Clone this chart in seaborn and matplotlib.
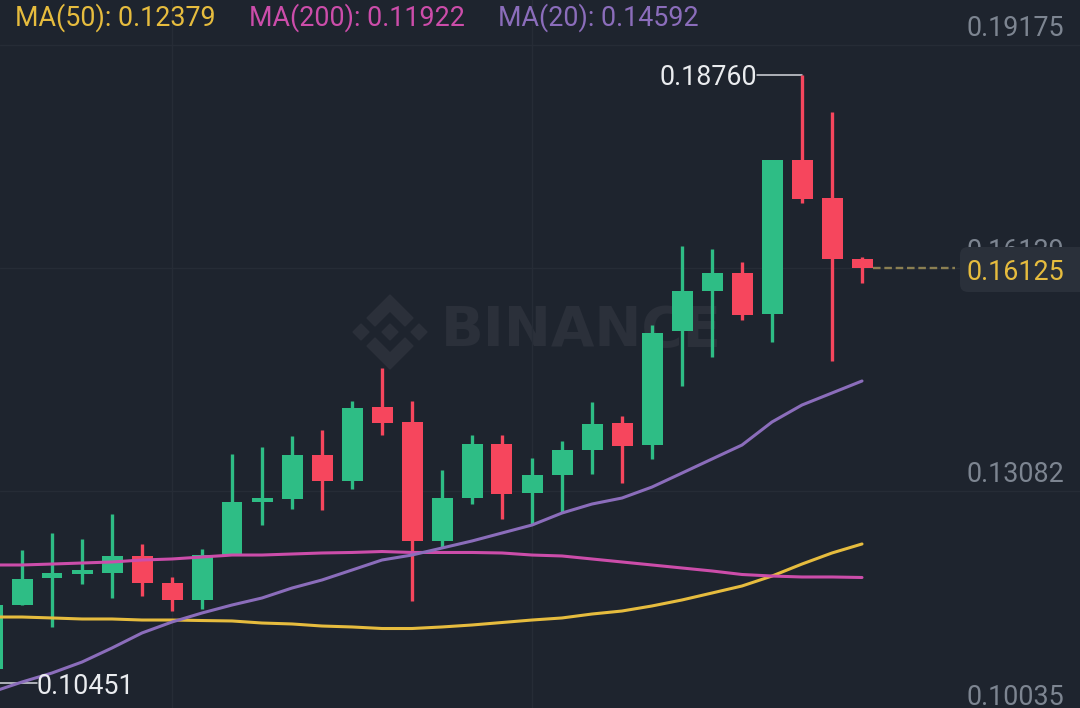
import numpy as np
import pandas as pd
import matplotlib
matplotlib.use("Agg")
import matplotlib.pyplot as plt
from matplotlib.patches import FancyBboxPatch, Polygon
from matplotlib.transforms import IdentityTransform
import seaborn as sns

# --- candles ---
opens = [0.10649, 0.11523, 0.11892, 0.11947, 0.11960, 0.12193, 0.11824, 0.11592, 0.12206, 0.12931,
         0.12972, 0.13573, 0.13218, 0.14229, 0.14024, 0.12398, 0.12985, 0.13723, 0.13054, 0.13300,
         0.13641, 0.14010, 0.13709, 0.15267, 0.15814, 0.16060, 0.15500, 0.17604, 0.17084, 0.16251]
highs = [0.11523, 0.12275, 0.12507, 0.12425, 0.12767, 0.12357, 0.11906, 0.12288, 0.13586, 0.13682,
         0.13832, 0.13914, 0.14311, 0.14762, 0.14311, 0.13368, 0.13846, 0.13846, 0.13532, 0.13764,
         0.14297, 0.14106, 0.15349, 0.16429, 0.16388, 0.16210, 0.17604, 0.18760, 0.18260, 0.16278]
lows = [0.10649, 0.11523, 0.11223, 0.11810, 0.11619, 0.11646, 0.11441, 0.11469, 0.12206, 0.12616,
        0.12835, 0.12821, 0.13108, 0.13846, 0.11578, 0.12302, 0.12903, 0.12698, 0.12616, 0.12780,
        0.13313, 0.13190, 0.13518, 0.14516, 0.14912, 0.15417, 0.15117, 0.17016, 0.14857, 0.15923]
closes = [0.11523, 0.11878, 0.11960, 0.12001, 0.12193, 0.11824, 0.11592, 0.12206, 0.12931, 0.12985,
          0.13573, 0.13218, 0.14215, 0.14010, 0.12398, 0.12985, 0.13723, 0.13040, 0.13300, 0.13641,
          0.13996, 0.13696, 0.15240, 0.15814, 0.16060, 0.15486, 0.17604, 0.17071, 0.16251, 0.16125]

ma50 = [0.11359, 0.11359, 0.11346, 0.11332, 0.11332, 0.11318, 0.11318, 0.11311, 0.11305, 0.11277,
        0.11264, 0.11236, 0.11223, 0.11202, 0.11202, 0.11223, 0.11250, 0.11284, 0.11318, 0.11346,
        0.11400, 0.11441, 0.11510, 0.11592, 0.11687, 0.11783, 0.11919, 0.12083, 0.12234, 0.12357]
ma200 = [0.12070, 0.12070, 0.12083, 0.12097, 0.12111, 0.12138, 0.12152, 0.12179, 0.12206, 0.12206,
         0.12220, 0.12234, 0.12241, 0.12254, 0.12241, 0.12241, 0.12241, 0.12234, 0.12206, 0.12193,
         0.12152, 0.12111, 0.12070, 0.12029, 0.11988, 0.11940, 0.11919, 0.11906, 0.11906, 0.11899]
ma20 = [0.10334, 0.10471, 0.10594, 0.10744, 0.10936, 0.11141, 0.11291, 0.11414, 0.11523, 0.11619,
        0.11755, 0.11865, 0.12001, 0.12138, 0.12206, 0.12302, 0.12398, 0.12507, 0.12616, 0.12780,
        0.12903, 0.12985, 0.13135, 0.13326, 0.13518, 0.13709, 0.14024, 0.14256, 0.14420, 0.14584]

axis_ticks = [0.19175, 0.16129, 0.13082, 0.10035]
axis_labels = ["0.19175", "0.16129", "0.13082", "0.10035"]
legend_labels = ["MA(50): 0.12379", "MA(200): 0.11922", "MA(20): 0.14592"]
last_price = 0.16125
peak_price = 0.18760
trough_price = 0.10451

BG = "#1E242E"
GRID = "#262C36"
GREEN = "#2EBD85"
RED = "#F6465D"
YELLOW = "#E6BC3E"
PINK = "#CC4DAA"
PURPLE = "#8B6DBB"
AXIS_GREY = "#7D8591"

sns.set_theme(style="dark", rc={"figure.facecolor": BG, "axes.facecolor": BG})
plt.rcParams["font.family"] = ["Roboto", "DejaVu Sans"]

W, H = 1080, 708
fig = plt.figure(figsize=(W / 100, H / 100), dpi=100)
ax = fig.add_axes([0, 0, 1, 1])
ax.set_zorder(1)
ax.patch.set_alpha(0)

df = pd.DataFrame({"i": np.arange(len(opens)), "open": opens, "high": highs, "low": lows,
                   "close": closes, "ma50": ma50, "ma200": ma200, "ma20": ma20})
df["color"] = np.where(df["close"] >= df["open"], GREEN, RED)

# grid
ax.set_yticks(axis_ticks)
ax.set_xticks([6, 18])
ax.grid(True, color=GRID, linewidth=1)
ax.tick_params(left=False, bottom=False, labelleft=False, labelbottom=False)
sns.despine(ax=ax, left=True, bottom=True)
ax.set_axisbelow(True)


def px(x, y):
    return x / W, 1 - y / H


# watermark in pixel coordinates, sits under the axes
def logo_poly(points, cx=390, cy=332):
    pts = [(cx + a, H - cy + b) for a, b in points]
    fig.add_artist(Polygon(pts, closed=True, color="#2B303A", transform=IdentityTransform(), zorder=0.5))


for dx in (-29, 0, 29):
    logo_poly([(dx, 8), (dx + 8, 0), (dx, -8), (dx - 8, 0)])
chevron = [(0, 37), (23, 14), (15, 6), (0, 21), (-15, 6), (-23, 14)]
logo_poly(chevron)
logo_poly([(a, -b) for a, b in chevron])
fig.text(*px(441, 331), "BINANCE", color="#2B303A", fontsize=40.5, fontweight="bold",
         family="DejaVu Sans", va="center", ha="left", zorder=0.5)

# candles
ax.vlines(df["i"], df["low"], df["high"], colors=df["color"], linewidth=2.4, zorder=3)
ax.bar(df["i"], (df["close"] - df["open"]).abs(), bottom=df[["open", "close"]].min(axis=1),
       width=0.7, color=df["color"], linewidth=0, zorder=3)

# moving averages
for col, c in [("ma50", YELLOW), ("ma200", PINK), ("ma20", PURPLE)]:
    sns.lineplot(data=df, x="i", y=col, color=c, linewidth=2.2, ax=ax, zorder=4, errorbar=None)

# last price dashes, hi/lo leaders
ax.plot([29.37, 32.1], [last_price, last_price], color="#8B7F52", linewidth=1.7,
        linestyle=(0, (3.2, 1.6)), zorder=2)
ax.plot([25.5, 27], [peak_price, peak_price], color="#D5D8DD", linewidth=1.1, zorder=2)
ax.plot([0.2, 1.5], [trough_price, trough_price], color="#D5D8DD", linewidth=1.1, zorder=2)

ax.set_xlim(8 / 30, 1088 / 30)
ax.set_ylim(0.101158, 0.197899)
ax.set_xlabel("")
ax.set_ylabel("")

# axis labels sit just above their gridlines
FS = 19.4
for t, lab in zip(axis_ticks, axis_labels):
    ax.annotate(lab, xy=(1, t), xycoords=("axes fraction", "data"), xytext=(-11.5, 2),
                textcoords="offset points", ha="right", va="bottom", color=AXIS_GREY,
                fontsize=FS, zorder=5, annotation_clip=False)

# price tag covers the 0.16129 label
fig_box = FancyBboxPatch((960, H - 292), 135, 45, boxstyle="round,pad=0,rounding_size=8",
                         facecolor="#2A303A", edgecolor="none", transform=IdentityTransform(), zorder=6)
ax.add_patch(fig_box)
fig_box.set_clip_on(False)
fig.text(*px(1064, 272.5), "0.16125", color=YELLOW, fontsize=FS, ha="right", va="center", zorder=7)

fig.text(*px(757, 77.5), "0.18760", color="#EAECEF", fontsize=FS, ha="right", va="center", zorder=7)
fig.text(*px(37, 686), "0.10451", color="#EAECEF", fontsize=FS, ha="left", va="center", zorder=7)

for x, lab, c in zip([15, 249, 498], legend_labels, [YELLOW, PINK, PURPLE]):
    fig.text(*px(x, 17.5), lab, color=c, fontsize=FS, ha="left", va="center", zorder=7)

fig.savefig("out.png", dpi=100, facecolor=BG)
